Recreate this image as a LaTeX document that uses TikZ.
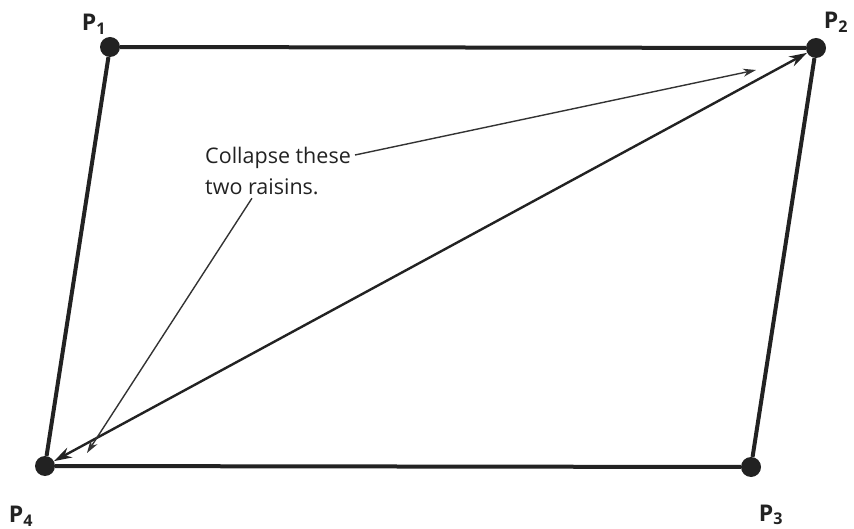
\documentclass[tikz,border=0pt]{standalone}
\usepackage{fontspec}
\setmainfont{Open Sans}
\usetikzlibrary{arrows.meta,positioning,calc}
\definecolor{ink}{HTML}{222222}
\definecolor{fine}{HTML}{333333}

\tikzset{
  raisin/.style={circle,fill=ink,inner sep=0pt,minimum size=20pt},
  edge/.style={ink,line width=4pt},
  pointer/.style={fine,line width=1.4pt,-{Stealth[length=13pt,width=8pt]}},
  plabel/.style={font=\fontsize{23}{25}\selectfont\bfseries,ink},
  note/.style={font=\fontsize{21.5}{24}\selectfont,ink,inner sep=0pt,anchor=west}
}

\begin{document}
\begin{tikzpicture}[x=1pt,y=-1pt]
  \useasboundingbox (0,0) rectangle (854,529);

  % the four raisins
  \node[raisin] (p1) at (110,47) {};
  \node[raisin] (p2) at (816,48) {};
  \node[raisin] (p3) at (751,467) {};
  \node[raisin] (p4) at (45,466) {};

  % labels
  \node[plabel] at (94,24) {P$_{\mathbf 1}$};
  \node[plabel] at (836,22) {P$_{\mathbf 2}$};
  \node[plabel] at (771,515) {P$_{\mathbf 3}$};
  \node[plabel] at (21,516) {P$_{\mathbf 4}$};

  % the parallelogram
  \draw[edge] (p1) -- (p2);
  \draw[edge] (p2) -- (p3);
  \draw[edge] (p3) -- (p4);
  \draw[edge] (p4) -- (p1);

  % diagonal
  \draw[ink,line width=2.4pt,{Stealth[length=18pt,width=11pt]}-{Stealth[length=18pt,width=11pt]}] (p4) -- (p2);

  % note
  \node[note] (line1) at (205,158) {Collapse these};
  \node[note] (line2) at (205,187) {two raisins.};
  \coordinate (tipA) at (756,70);
  \coordinate (tipB) at (87,453);
  \draw[pointer] ([xshift=4pt,yshift=3pt]line1.east) -- (tipA);
  \draw[pointer] ([xshift=-10pt,yshift=-3pt]line2.south) -- (tipB);
\end{tikzpicture}
\end{document}
